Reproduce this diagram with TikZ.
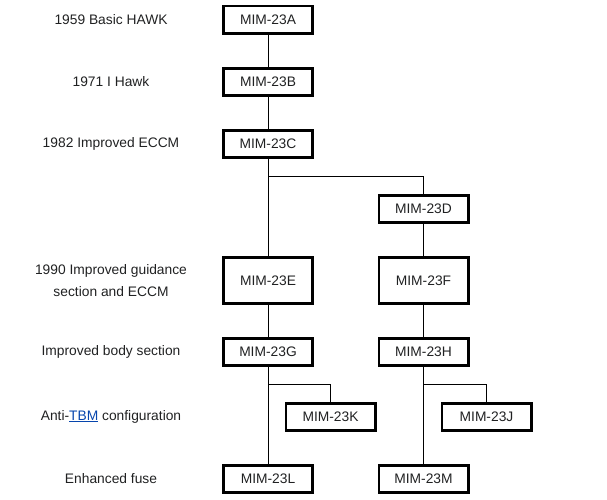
\documentclass[tikz,border=0pt]{standalone}
\usepackage{fontspec}
\setmainfont{Liberation Sans}
\definecolor{inktext}{HTML}{202122}
\definecolor{linkblue}{HTML}{0645AD}

\begin{document}
\begin{tikzpicture}[x=1pt, y=-1pt,
  every node/.style={text=inktext, font=\fontsize{13.8}{22}\selectfont},
  model/.style={shape=rectangle, draw=black, line width=2.8pt, minimum width=89.2pt, minimum height=27.2pt, inner sep=0pt},
  tall/.style={model, minimum height=46.5pt},
  era/.style={align=center}]
\useasboundingbox (0,0) rectangle (607,500);
\node[era] (l1) at (111, 20) {1959 Basic HAWK};
\node[era] (l2) at (111, 82) {1971 I Hawk};
\node[era] (l3) at (111, 144) {1982 Improved ECCM};
\node[era] (l4) at (111, 280.6) {1990 Improved guidance\\section and ECCM};
\node[era] (l5) at (111, 352) {Improved body section};
\node[era] (l6) at (111, 416.7) {Anti-\textcolor{linkblue}{\underline{TBM}} configuration};
\node[era] (l7) at (111, 479) {Enhanced fuse};
\node[model] (A) at (268, 19.7) {MIM-23A};
\node[model] (B) at (268, 82) {MIM-23B};
\node[model] (C) at (268, 144) {MIM-23C};
\node[model] (D) at (423.5, 208.7) {MIM-23D};
\node[tall] (E) at (268, 280.6) {MIM-23E};
\node[tall] (F) at (423.5, 280.6) {MIM-23F};
\node[model] (G) at (268, 352) {MIM-23G};
\node[model] (H) at (423.5, 352) {MIM-23H};
\node[model] (K) at (330.5, 416.7) {MIM-23K};
\node[model] (J) at (486.5, 416.7) {MIM-23J};
\node[model] (L) at (268, 479) {MIM-23L};
\node[model] (M) at (423.5, 479) {MIM-23M};
\path [-, line width=1pt, draw=black] (A) edge (B);
\path [-, line width=1pt, draw=black] (B) edge (C);
\path [-, line width=1pt, draw=black] (C) edge (E);
\path [-, line width=1pt, draw=black] (D) edge (F);
\path [-, line width=1pt, draw=black] (E) edge (G);
\path [-, line width=1pt, draw=black] (F) edge (H);
\path [-, line width=1pt, draw=black] (G) edge (L);
\path [-, line width=1pt, draw=black] (H) edge (M);
\draw [line width=1pt] (C.south) |- ([yshift=17pt]D.north) -- (D.north);
\draw [line width=1pt] (G.south) |- ([yshift=17pt]K.north) -- (K.north);
\draw [line width=1pt] (H.south) |- ([yshift=17pt]J.north) -- (J.north);
\end{tikzpicture}
\end{document}
